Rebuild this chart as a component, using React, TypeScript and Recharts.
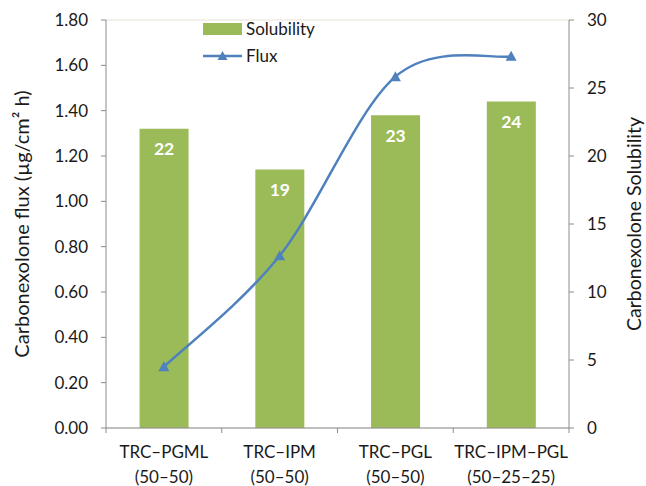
import React from 'react';
import {
  ComposedChart,
  Bar,
  Line,
  XAxis,
  YAxis,
  CartesianGrid,
  LabelList
} from 'recharts';

const categories = ['TRC–PGML', 'TRC–IPM', 'TRC–PGL', 'TRC–IPM–PGL'];
const ratios = ['(50–50)', '(50–50)', '(50–50)', '(50–25–25)'];
const solubility = [22, 19, 23, 24];
const flux = [0.27, 0.76, 1.55, 1.64];
const fluxTicks = [0, 0.2, 0.4, 0.6, 0.8, 1.0, 1.2, 1.4, 1.6, 1.8];
const solTicks = [0, 5, 10, 15, 20, 25, 30];

const W = 646;
const H = 486;
const LEFT_W = 106;
const RIGHT_W = 77;
const BAND = (W - LEFT_W - RIGHT_W) / categories.length;

const FONT = 'Lato, sans-serif';
const GREEN = '#9bbb59';
const BLUE = '#4f81bd';
const AXIS = '#8c8c8c';
const TEXT = '#1a1a1a';

const data = categories.map((c, i) => ({
  name: c,
  ratio: ratios[i],
  solubility: solubility[i],
  flux: flux[i]
}));

// Excel-like smoothed line (Catmull-Rom style bezier)
const excelCurve = (context: any) => {
  let pts: number[][] = [];
  return {
    areaStart() {},
    areaEnd() {},
    lineStart() {
      pts = [];
    },
    point(x: number, y: number) {
      pts.push([+x, +y]);
    },
    lineEnd() {
      const n = pts.length;
      if (!n) return;
      context.moveTo(pts[0][0], pts[0][1]);
      for (let i = 0; i < n - 1; i++) {
        const p0 = pts[Math.max(i - 1, 0)];
        const p1 = pts[i];
        const p2 = pts[i + 1];
        const p3 = pts[Math.min(i + 2, n - 1)];
        context.bezierCurveTo(
          p1[0] + (p2[0] - p0[0]) / 6,
          p1[1] + (p2[1] - p0[1]) / 6,
          p2[0] - (p3[0] - p1[0]) / 6,
          p2[1] - (p3[1] - p1[1]) / 6,
          p2[0],
          p2[1]
        );
      }
    }
  };
};

const CategoryTick = (props: any) => {
  const { x, y, payload, index } = props;
  const edge = x - BAND / 2;
  return (
    <g>
      <line x1={edge} x2={edge} y1={y - 5} y2={y} stroke={AXIS} />
      {index === categories.length - 1 && (
        <line x1={x + BAND / 2} x2={x + BAND / 2} y1={y - 5} y2={y} stroke={AXIS} />
      )}
      <text x={x} y={y + 25} textAnchor="middle" fontSize={17} fill={TEXT} fontFamily={FONT}>
        {payload.value}
      </text>
      <text x={x} y={y + 50} textAnchor="middle" fontSize={17} fill={TEXT} fontFamily={FONT}>
        {ratios[index]}
      </text>
    </g>
  );
};

const Triangle = (props: any) => {
  const { cx, cy } = props;
  if (cx == null || cy == null) return null;
  return <path d={`M${cx},${cy - 5.5} L${cx + 5.5},${cy + 4.5} L${cx - 5.5},${cy + 4.5} Z`} fill={BLUE} />;
};

const LegendBox = () => (
  <svg width={150} height={60} style={{ position: 'absolute', left: 200, top: 15 }}>
    <rect x={3} y={8} width={39} height={12} fill={GREEN} />
    <text x={46} y={20} fontSize={17} fill={TEXT} fontFamily={FONT}>Solubility</text>
    <line x1={3} x2={42} y1={41} y2={41} stroke={BLUE} strokeWidth={2.5} />
    <path d="M22.5,36 L27.5,45 L17.5,45 Z" fill={BLUE} />
    <text x={46} y={47} fontSize={17} fill={TEXT} fontFamily={FONT}>Flux</text>
  </svg>
);

export default function App() {
  return (
    <div style={{ position: 'absolute', left: 0, top: 0, width: W, height: H, background: '#fff' }}>
      <ComposedChart
        width={W}
        height={H}
        data={data}
        margin={{ top: 20, right: 0, left: 0, bottom: 0 }}
        barCategoryGap="29%"
      >
        <CartesianGrid vertical={false} stroke="#e6e3d3" />
        <XAxis
          dataKey="name"
          height={58}
          stroke={AXIS}
          tickLine={false}
          tickSize={5}
          tickMargin={0}
          interval={0}
          tick={<CategoryTick />}
        />
        <YAxis
          yAxisId="flux"
          width={LEFT_W}
          domain={[0, 1.8]}
          ticks={fluxTicks}
          tickFormatter={(v: number) => v.toFixed(2)}
          stroke={AXIS}
          tickSize={5}
          tickMargin={13}
          tick={{ fill: TEXT, fontSize: 17, fontFamily: FONT }}
          label={{
            value: 'Carbonexolone flux (µg/cm² h)',
            angle: -90,
            position: 'insideLeft',
            offset: 22,
            style: { textAnchor: 'middle', fill: TEXT, fontSize: 20, fontFamily: FONT }
          }}
        />
        <YAxis
          yAxisId="sol"
          orientation="right"
          width={RIGHT_W}
          domain={[0, 30]}
          ticks={solTicks}
          stroke={AXIS}
          tickSize={5}
          tickMargin={13}
          tick={{ fill: TEXT, fontSize: 17, fontFamily: FONT }}
          label={{
            value: 'Carbonexolone Solubility',
            angle: -90,
            position: 'insideRight',
            offset: 12,
            style: { textAnchor: 'middle', fill: TEXT, fontSize: 19.5, fontFamily: FONT }
          }}
        />
        <Bar yAxisId="sol" dataKey="solubility" name="Solubility" fill={GREEN} isAnimationActive={false}>
          <LabelList
            dataKey="solubility"
            position="insideTop"
            offset={14}
            fill="#fff"
            fontSize={17.5}
            fontWeight="bold"
            fontFamily={FONT}
          />
        </Bar>
        <Line
          yAxisId="flux"
          type={excelCurve as any}
          dataKey="flux"
          name="Flux"
          stroke={BLUE}
          strokeWidth={2.5}
          dot={<Triangle />}
          activeDot={false}
          isAnimationActive={false}
        />
      </ComposedChart>
      <LegendBox />
    </div>
  );
}
